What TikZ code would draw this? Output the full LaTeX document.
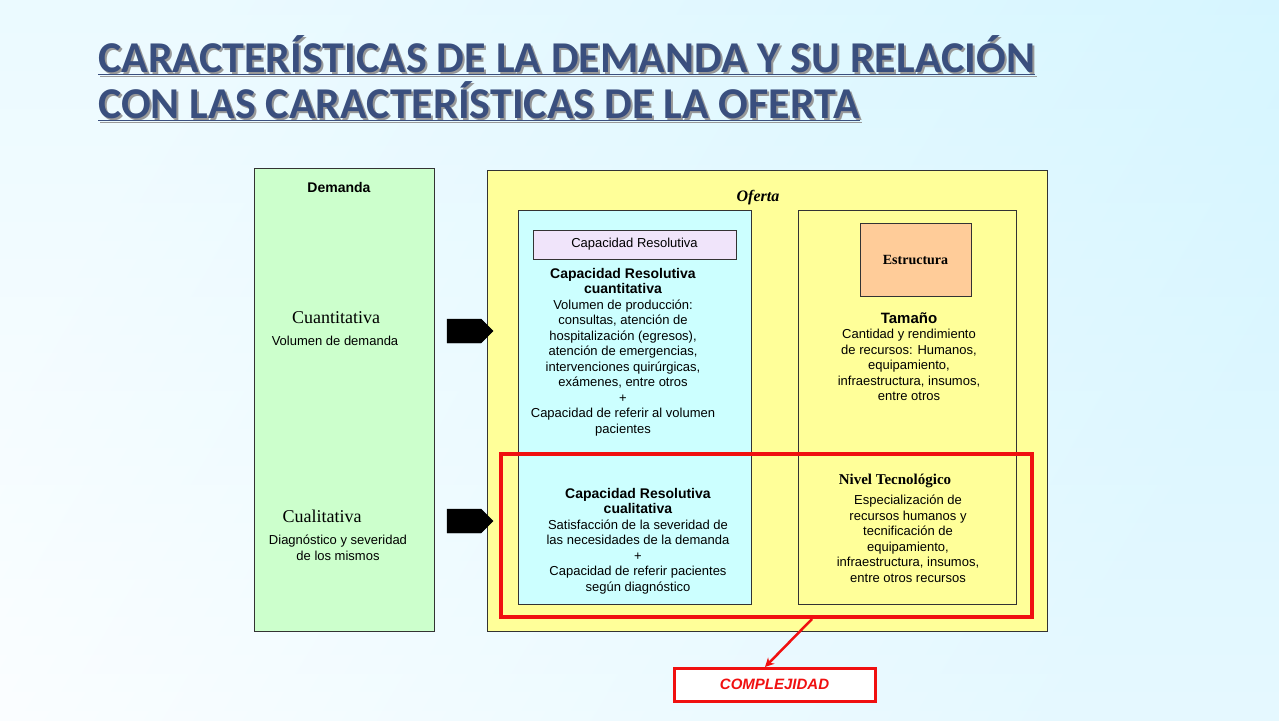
\documentclass[tikz,border=0pt]{standalone}
\usepackage{fontspec}
\setmainfont{Liberation Sans}
\newfontfamily\tnr{Liberation Serif}
\newfontfamily\calfont{Carlito}
\usetikzlibrary{shapes.arrows,arrows.meta}
\definecolor{titlec}{HTML}{3A4F7E}
\definecolor{demc}{HTML}{CCFFCC}
\definecolor{ofc}{HTML}{FFFF99}
\definecolor{cyc}{HTML}{CCFFFF}
\definecolor{lavc}{HTML}{F0E4FA}
\definecolor{orc}{HTML}{FFCC99}
\definecolor{redc}{HTML}{F01010}
\tikzset{
  box/.style={draw=black!80, line width=0.6pt},
  body/.style={align=center, font=\fontsize{13}{15.5}\selectfont, inner sep=0pt},
  blk/.style={single arrow, fill=black, draw=black, minimum height=46pt, minimum width=24pt, single arrow head extend=0pt, single arrow tip angle=90, inner sep=0pt},
}
\begin{document}
\begin{tikzpicture}[x=1pt,y=-1pt]
\shade[left color=white!95!blue!10, right color=blue!25!cyan!20!white, shading angle=60] (0,0) rectangle (1279,720);
\useasboundingbox (0,0) rectangle (1279,720);
\shade[top color=blue!20!cyan!15!white, bottom color=white, opacity=0.5] (0,0) rectangle (1279,720);
% title
\node[anchor=north west, align=left, inner sep=0pt, text=black!40, font=\calfont\bfseries\fontsize{44}{46}\selectfont] at (100,37) {\underline{CARACTERÍSTICAS DE LA DEMANDA Y SU RELACIÓN}\\\underline{CON LAS CARACTERÍSTICAS DE LA OFERTA}};
\node (title) [anchor=north west, align=left, inner sep=0pt, text=titlec, font=\calfont\bfseries\fontsize{44}{46}\selectfont] at (98,35) {\underline{CARACTERÍSTICAS DE LA DEMANDA Y SU RELACIÓN}\\\underline{CON LAS CARACTERÍSTICAS DE LA OFERTA}};
% boxes
\draw[box, fill=demc] (254,168) rectangle (434,631);
\draw[box, fill=ofc] (487,170) rectangle (1047,631);
\draw[box, fill=cyc] (518,210) rectangle (751,604);
\draw[box] (798,210) rectangle (1016,604);
\node (cr) [box, fill=lavc, minimum width=203pt, minimum height=29pt, inner sep=0pt, font=\fontsize{13}{15}\selectfont] at (634.5,244.5) {Capacidad Resolutiva};
\node (est) [box, fill=orc, minimum width=111pt, minimum height=73pt, inner sep=0pt, font=\tnr\bfseries\fontsize{14}{16}\selectfont] at (915.5,259.5) {Estructura};
% texts
\node (dem) [font=\bfseries\fontsize{14}{16}\selectfont] at (339,187) {Demanda};
\node (of) [font=\tnr\bfseries\itshape\fontsize{16}{18}\selectfont] at (758,198) {Oferta};
\node (cuan) [font=\tnr\fontsize{18}{20}\selectfont] at (336,318) {Cuantitativa};
\node (vol) [body] at (335,341) {Volumen de demanda};
\node (cual) [font=\tnr\fontsize{18}{20}\selectfont] at (322,516) {Cualitativa};
\node (diag) [body] at (338,548) {Diagnóstico y severidad\\de los mismos};
\node (crq) [body, anchor=north] at (623,268) {\textbf{\fontsize{14}{16}\selectfont Capacidad Resolutiva}\\\textbf{\fontsize{14}{16}\selectfont cuantitativa}\\Volumen de producción:\\consultas, atención de\\hospitalización (egresos),\\atención de emergencias,\\intervenciones quirúrgicas,\\exámenes, entre otros\\+\\Capacidad de referir al volumen\\pacientes};
\node (tam) [body, anchor=north] at (909,312) {\textbf{\fontsize{15}{17}\selectfont Tamaño}\\Cantidad y rendimiento\\de recursos: Humanos,\\equipamiento,\\infraestructura, insumos,\\entre otros};
\node (crl) [body, anchor=north] at (638,488) {\textbf{\fontsize{14}{16}\selectfont Capacidad Resolutiva}\\\textbf{\fontsize{14}{16}\selectfont cualitativa}\\Satisfacción de la severidad de\\las necesidades de la demanda\\+\\Capacidad de referir pacientes\\según diagnóstico};
\node (niv) [font=\tnr\bfseries\fontsize{15}{17}\selectfont] at (895,481) {Nivel Tecnológico};
\node (esp) [body, anchor=north] at (908,495) {Especialización de\\recursos humanos y\\tecnificación de\\equipamiento,\\infraestructura, insumos,\\entre otros recursos};
% arrows
\node (a1) [blk] at (464,331) {};
\node (a2) [blk] at (464,521) {};
% red
\draw[redc, line width=4pt] (501,454) rectangle (1032,617);
\coordinate (rb) at (812,619);
\node (comp) [draw=redc, line width=3pt, fill=white, minimum width=201pt, minimum height=33pt, inner sep=0pt, text=redc, font=\bfseries\itshape\fontsize{15}{17}\selectfont] at (774.5,684.5) {COMPLEJIDAD};
\draw[redc, line width=2.5pt, -{Stealth[length=9pt,width=9pt]}] (rb) -- (765,667);
\end{tikzpicture}
\end{document}
